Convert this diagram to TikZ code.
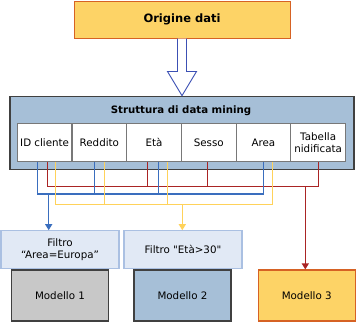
\documentclass[tikz,border=0pt]{standalone}
\usepackage{fontspec}
\setmainfont{DejaVu Sans}
\usetikzlibrary{positioning,calc,arrows.meta}

\definecolor{srcfill}{RGB}{253,211,102}
\definecolor{srcdraw}{RGB}{214,98,36}
\definecolor{structfill}{RGB}{166,191,215}
\definecolor{boxdraw}{RGB}{64,64,64}
\definecolor{celldraw}{RGB}{120,120,120}
\definecolor{filtfill}{RGB}{225,233,245}
\definecolor{filtdraw}{RGB}{170,192,226}
\definecolor{modfill}{RGB}{200,200,200}
\definecolor{lnblue}{RGB}{58,110,190}
\definecolor{lnred}{RGB}{170,36,36}
\definecolor{lnyellow}{RGB}{255,210,90}
\definecolor{arrowdraw}{RGB}{60,80,180}

\tikzset{
  txt/.style={font=\fontsize{10.3}{12.5}\selectfont},
  srcbox/.style={draw=srcdraw, line width=1pt, fill=srcfill, minimum width=216pt, minimum height=37pt, font=\fontsize{11.5}{13}\selectfont\bfseries},
  structbox/.style={draw=boxdraw, line width=1.2pt, fill=structfill, minimum width=344pt, minimum height=73pt},
  cellbox/.style={draw=celldraw, line width=1.2pt, fill=white, minimum width=54.7pt, minimum height=38.4pt, inner sep=0pt, outer sep=0pt, align=center, txt},
  filtbox/.style={draw=filtdraw, line width=1.2pt, fill=filtfill, minimum width=118pt, minimum height=38pt, align=center, txt},
  modbox/.style={draw=boxdraw, line width=1.2pt, minimum width=97pt, minimum height=51pt, txt},
  bus/.style={line width=1.3pt},
  tip/.style={-{Triangle[width=7pt,length=6pt]}}
}

\begin{document}
\begin{tikzpicture}[x=1pt, y=-1pt]
        \useasboundingbox (0,0) rectangle (356,322);

        % Source and mining structure
        \node[srcbox] (orig) at (182,19.5) {Origine dati};
        \node[structbox] (strut) at (182,132.75) {};
        \node[font=\fontsize{10.2}{12}\selectfont\bfseries] (title) at (181,110.7) {Struttura di data mining};

        % Hollow arrow
        \draw[arrowdraw, line width=0.9pt, fill=white]
          ($(orig.south)+(-4.5,0)$) -- ($(orig.south)+(-4.5,33)$) -- ($(orig.south)+(-14.5,33)$)
          -- (strut.north) -- ($(orig.south)+(14.5,33)$) -- ($(orig.south)+(4.5,33)$) -- ($(orig.south)+(4.5,0)$);

        % Columns
        \node[cellbox] (idc) at (44.65,142.5) {ID cliente};
        \node[cellbox, right=0pt of idc] (redd) {Reddito};
        \node[cellbox, right=0pt of redd] (eta) {Età};
        \node[cellbox, right=0pt of eta] (sesso) {Sesso};
        \node[cellbox, right=0pt of sesso] (area) {Area};
        \node[cellbox, right=0pt of area] (tab) {Tabella\\nidificata};

        % Filters and models
        \node[filtbox] (filtA) at (60,249.8) {Filtro\\“Area=Europa”};
        \node[filtbox] (filtB) at (183,249.8) {Filtro \textquotedbl Età>30\textquotedbl};
        \node[modbox, fill=modfill] (modA) at (60,295.5) {Modello 1};
        \node[modbox, fill=structfill] (modB) at (182.5,295.5) {Modello 2};
        \node[modbox, draw=srcdraw, fill=srcfill] (modC) at (306.75,295.5) {Modello 3};

        % Bus levels
        \coordinate (rbus) at (0,186.7);
        \coordinate (bbus) at (0,194);
        \coordinate (ybus) at (0,204.3);

        % Red: model 3
        \draw[bus, lnred] ([xshift=3pt]idc.south) -- ([xshift=3pt]idc.south |- rbus) -| (tab.south);
        \draw[bus, lnred] ([xshift=-6.3pt]eta.south) -- ([xshift=-6.3pt]eta.south |- rbus);
        \draw[bus, lnred] ([xshift=-1pt]sesso.south) -- ([xshift=-1pt]sesso.south |- rbus);
        \draw[bus, lnred, tip] ([xshift=-1.45pt]modC.north |- rbus) -- ([xshift=-1.45pt]modC.north);

        % Blue: model 1
        \draw[bus, lnblue] ([xshift=-7.3pt]idc.south) -- ([xshift=-7.3pt]idc.south |- bbus) -| ([xshift=0.3pt]area.south);
        \draw[bus, lnblue] ([xshift=-5pt]redd.south) -- ([xshift=-5pt]redd.south |- bbus);
        \draw[bus, lnblue] ([xshift=4.4pt]eta.south) -- ([xshift=4.4pt]eta.south |- bbus);
        \draw[bus, lnblue, tip] ([xshift=-11.3pt]filtA.north |- bbus) -- ([xshift=-11.3pt]filtA.north);

        % Yellow: model 2
        \draw[bus, lnyellow] ([xshift=11pt]idc.south) -- ([xshift=11pt]idc.south |- ybus) -| ([xshift=9pt]area.south);
        \draw[bus, lnyellow] ([xshift=5pt]redd.south) -- ([xshift=5pt]redd.south |- ybus);
        \draw[bus, lnyellow] ([xshift=13.4pt]eta.south) -- ([xshift=13.4pt]eta.south |- ybus);
        \draw[bus, lnyellow, tip] ([xshift=-0.7pt]filtB.north |- ybus) -- ([xshift=-0.7pt]filtB.north);
    \end{tikzpicture}
\end{document}
